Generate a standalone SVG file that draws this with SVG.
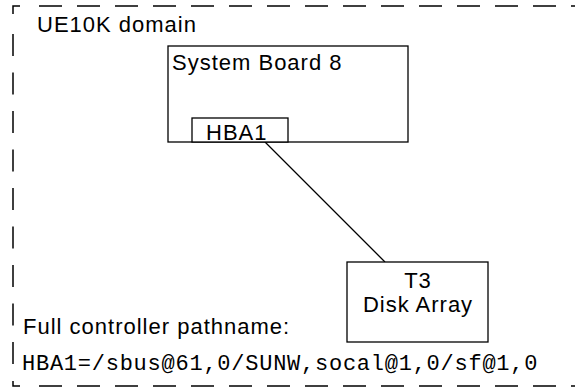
<svg xmlns="http://www.w3.org/2000/svg" width="575" height="392" viewBox="0 0 575 392">
<style>
.frame{fill:none;stroke:#000;stroke-width:1.5}
.dash{fill:none;stroke:#000;stroke-width:1.5;stroke-dasharray:23 15}
.vdash{fill:none;stroke:#000;stroke-width:1.5;stroke-dasharray:22 16.5}
.box{fill:#fff;stroke:#000;stroke-width:1.3}
.t{font-family:"Liberation Sans",Arial,sans-serif;font-size:22px;letter-spacing:1px;fill:#000}
.m{font-family:"Liberation Mono","Courier New",monospace;font-size:22px;letter-spacing:0.75px;fill:#000}
.c{text-anchor:middle}
</style>
<rect width="575" height="392" fill="#fff"/>
<g id="domain">
<path class="frame" d="M13,14 V6 H20"/>
<path class="frame" d="M13,381 V386 H20"/>
<path class="dash" d="M39,6 H575"/>
<path class="dash" d="M39,386 H575"/>
<path class="vdash" d="M13,34 V366"/>
<text class="t" x="37" y="32">UE10K domain</text>
</g>
<g id="connectors">
<line x1="265" y1="142" x2="385" y2="262" stroke="#000" stroke-width="1.3"/>
</g>
<g id="board">
<rect class="box" x="168" y="46" width="240" height="96"/>
<text class="t" x="172" y="70">System Board 8</text>
</g>
<g id="hba1">
<rect class="box" x="192" y="118" width="96" height="24"/>
<text class="t" x="206" y="140">HBA1</text>
</g>
<g id="t3">
<rect class="box" x="347" y="262" width="141" height="80"/>
<text class="t c" x="418" y="288">T3</text>
<text class="t c" x="418" y="312">Disk Array</text>
</g>
<g id="pathname">
<text class="t" x="23" y="334">Full controller pathname:</text>
<text class="m" x="22" y="370">HBA1=/sbus@61,0/SUNW,socal@1,0/sf@1,0</text>
</g>
</svg>
